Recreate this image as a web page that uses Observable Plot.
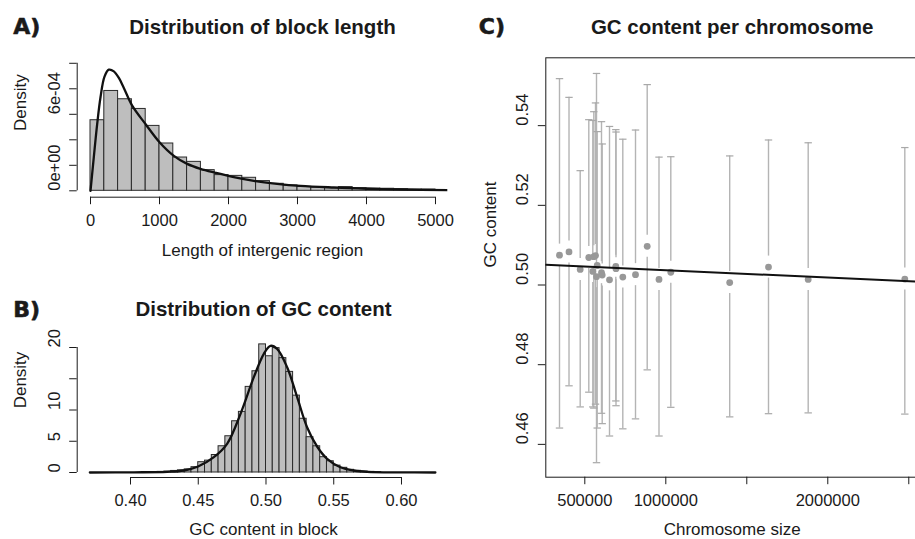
<!DOCTYPE html>
<html><head><meta charset="utf-8">
<script src="https://cdn.jsdelivr.net/npm/d3@7"></script>
<script src="https://cdn.jsdelivr.net/npm/@observablehq/plot@0.6"></script>
<style>
html,body{margin:0;padding:0;background:#fff;overflow:hidden}
#root{position:relative;width:915px;height:539px;overflow:hidden;background:#fff}
#root svg{position:absolute;left:0;top:0}
</style></head><body><div id="root"></div>
<script>
// ---------- Panel A: distribution of block length ----------
const lenBreaks = [0,200,400,600,800,1000,1200,1400,1600,1800,2000,2200,2400,2600,2800,3000,3200,3400,3600,3800,4000,4200,4400,4600,4800,5000];
const lenDensity = [5.535e-4,7.83e-4,7.18e-4,6.42e-4,5.09e-4,3.71e-4,2.61e-4,2.27e-4,1.62e-4,1.23e-4,1.17e-4,1.02e-4,0.76e-4,0.55e-4,0.42e-4,0.31e-4,0.26e-4,0.21e-4,0.29e-4,0.21e-4,0.18e-4,0.16e-4,0.13e-4,0.10e-4,0.10e-4];
const lenCurveX = [0,48,97,145,203,266,338,411,483,604,802,1000,1208,1401,1594,1812,2077,2367,2705,3043,3527,4010,4493,5193];
const lenCurveY = [0,2.64e-4,5.25e-4,7.34e-4,8.96e-4,9.50e-4,9.37e-4,8.85e-4,8.07e-4,6.68e-4,5.20e-4,3.81e-4,2.74e-4,2.11e-4,1.72e-4,1.41e-4,1.07e-4,7.8e-5,5.5e-5,3.9e-5,2.6e-5,1.6e-5,1.0e-5,5e-6];
const lenXTicks = [0,1000,2000,3000,4000,5000];
const lenXLabels = ["0","1000","2000","3000","4000","5000"];
const lenYTicks = [0,0.0002,0.0004,0.0006,0.0008,0.001];
const lenYLabelAt = [0,0.0006];
const lenYLabels = ["0e+00","6e-04"];

// ---------- Panel B: distribution of GC content ----------
const gcBreaks = [0.420,0.425,0.430,0.435,0.440,0.445,0.450,0.455,0.460,0.465,0.470,0.475,0.480,0.485,0.490,0.495,0.500,0.505,0.510,0.515,0.520,0.525,0.530,0.535,0.540,0.545,0.550,0.555,0.560,0.565,0.570,0.575,0.580,0.585];
const gcDensity = [0.1,0.15,0.25,0.35,0.5,0.85,1.65,1.9,2.8,4.2,5.8,8.2,9.7,13.7,16.2,20.5,18.6,19.9,18.3,16.1,12.3,8.6,5.65,4.2,2.45,1.8,1.1,0.75,0.43,0.27,0.16,0.1,0.05];
const gcCurveX = [0.3700,0.4025,0.4271,0.4394,0.4499,0.4615,0.4713,0.4812,0.4910,0.4984,0.5033,0.5082,0.5156,0.5230,0.5303,0.5377,0.5451,0.5549,0.5648,0.5746,0.5992,0.6250];
const gcCurveY = [0,0.03,0.11,0.32,0.96,2.45,4.59,9.39,15.25,18.99,20.27,19.79,16.85,12.05,7.25,4.16,2.19,0.85,0.32,0.11,0.02,0];
const gcXTicks = [0.40,0.45,0.50,0.55,0.60];
const gcXLabels = ["0.40","0.45","0.50","0.55","0.60"];
const gcYTicks = [0,5,10,15,20];
const gcYLabelAt = [0,5,10,20];
const gcYLabels = ["0","5","10","20"];

// ---------- Panel C: GC content per chromosome ----------
const chromSize = [343800,402500,471600,524700,549400,555600,566100,572200,576500,603100,607400,652500,691400,692600,734600,813000,885200,958000,1030900,1394500,1634000,1879000,2475400];
const chromGC   = [0.5075,0.5083,0.5039,0.5069,0.5034,0.5071,0.5074,0.5021,0.5049,0.5031,0.5025,0.5013,0.5047,0.5041,0.5020,0.5026,0.5097,0.5014,0.5032,0.5006,0.5045,0.5014,0.5015];
const chromHi   = [0.5518,0.5471,0.5287,0.5415,0.5413,0.5435,0.5457,0.5531,0.5385,0.5410,0.5354,0.5398,0.5390,0.5384,0.5366,0.5389,0.5503,0.5321,0.5322,0.5324,0.5364,0.5357,0.5345];
const chromLo   = [0.4641,0.4747,0.4694,0.4731,0.4694,0.4691,0.4701,0.4554,0.4641,0.4678,0.4652,0.4621,0.4709,0.4697,0.4639,0.4664,0.4787,0.4621,0.4693,0.4669,0.4677,0.4679,0.4676];
const fitIntercept = 0.50555;
const fitSlope = -1.838e-9;
const sizeTicks = [500000,1000000,1500000,2000000,2500000];
const sizeLabelAt = [500000,1000000,2000000];
const sizeLabels = ["500000","1000000","2000000"];
const gcCTicks = [0.46,0.48,0.50,0.52,0.54];
const gcCLabels = ["0.46","0.48","0.50","0.52","0.54"];

// ---------- styling ----------
const FONT = "'Liberation Sans', Arial, Helvetica, sans-serif";
const INK = "#1a1a1a";
const BAR = "#bebebe";
const EDGE = "#2a2a2a";
const ERR = "#b4b4b4";
const PT = "#989898";
const FS = 16.5, FT = 17, FH = 20.5;
const svgStyle = {background: "transparent", maxWidth: "none", color: INK, fontFamily: FONT, overflow: "visible"};
const root = document.getElementById("root");

function texts(xTitle, yTitle, title, tag, o) {
  return [
    Plot.text([yTitle], {text: d => d, frameAnchor: "left", rotate: -90, lineAnchor: "bottom", dx: o.yTitleDx, fontSize: FT, fill: INK}),
    Plot.text([xTitle], {text: d => d, frameAnchor: "bottom", lineAnchor: "bottom", dy: o.xTitleDy, fontSize: FT, fill: INK}),
    Plot.text([title], {text: d => d, frameAnchor: "top", lineAnchor: "bottom", dy: o.titleDy, fontSize: FH, fontWeight: "bold", fill: INK}),
    Plot.text([tag], {text: d => d, frameAnchor: "top-left", textAnchor: "start", lineAnchor: "bottom", dx: o.tagDx, dy: o.tagDy, fontSize: 22, fontWeight: "bold", fontFamily: "'DejaVu Sans', sans-serif", fill: INK, stroke: INK, strokeWidth: 0.6})
  ];
}

// Panel A
const binsA = lenDensity.map((d, i) => ({x1: lenBreaks[i], x2: lenBreaks[i + 1], y: d}));
const curveA = lenCurveX.map((x, i) => ({x, y: lenCurveY[i]}));
const xDomA = [-192.8, 5178.3], yDomA = [-5.02e-5, 9.882e-4];
root.append(Plot.plot({
  width: 915, height: 539,
  marginLeft: 76.7, marginRight: 915 - 447.3, marginTop: 64.3, marginBottom: 539 - 196.7,
  x: {domain: xDomA}, y: {domain: yDomA},
  style: svgStyle,
  marks: [
    Plot.rect(binsA, {x1: "x1", x2: "x2", y1: 0, y2: "y", fill: BAR, stroke: EDGE, strokeWidth: 1}),
    Plot.line(curveA, {x: "x", y: "y", curve: "catmull-rom", stroke: "#111", strokeWidth: 2.3, clip: true}),
    Plot.ruleY([yDomA[0]], {x1: lenXTicks[0], x2: lenXTicks[lenXTicks.length - 1], stroke: INK}),
    Plot.ruleX([xDomA[0]], {y1: lenYTicks[0], y2: lenYTicks[lenYTicks.length - 1], stroke: INK}),
    Plot.axisX(lenXTicks, {tickSize: 7.5, tickPadding: 9.2, fontSize: FS, label: null, tickFormat: d => lenXLabels[lenXTicks.indexOf(d)]}),
    Plot.axisY(lenYTicks, {tickSize: 7.5, fill: "none", label: null}),
    Plot.text(lenYLabelAt, {y: d => d, text: (d, i) => lenYLabels[i], frameAnchor: "left", rotate: -90, lineAnchor: "bottom", dx: -16.7, fontSize: FS, fill: INK}),
    ...texts("Length of intergenic region", "Density", "Distribution of block length", "A)",
      {yTitleDx: -51.2, xTitleDy: 58.3, titleDy: -31, tagDx: -64, tagDy: -31})
  ]
}));

// Panel B
const binsB = gcDensity.map((d, i) => ({x1: gcBreaks[i], x2: gcBreaks[i + 1], y: d}));
const curveB = gcCurveX.map((x, i) => ({x, y: gcCurveY[i]}));
const xDomB = [0.36066, 0.63565], yDomB = [-0.8, 21.33];
root.append(Plot.plot({
  width: 915, height: 539,
  marginLeft: 76.7, marginRight: 915 - 449.3, marginTop: 338.7, marginBottom: 539 - 477,
  x: {domain: xDomB}, y: {domain: yDomB},
  style: svgStyle,
  marks: [
    Plot.rect(binsB, {x1: "x1", x2: "x2", y1: 0, y2: "y", fill: BAR, stroke: EDGE, strokeWidth: 1}),
    Plot.line(curveB, {x: "x", y: "y", curve: "catmull-rom", stroke: "#111", strokeWidth: 2.3, clip: true}),
    Plot.ruleY([yDomB[0]], {x1: gcXTicks[0], x2: gcXTicks[gcXTicks.length - 1], stroke: INK}),
    Plot.ruleX([xDomB[0]], {y1: gcYTicks[0], y2: gcYTicks[gcYTicks.length - 1], stroke: INK}),
    Plot.axisX(gcXTicks, {tickSize: 7.5, tickPadding: 9.2, fontSize: FS, label: null, tickFormat: d => gcXLabels[gcXTicks.indexOf(d)]}),
    Plot.axisY(gcYTicks, {tickSize: 7.5, fill: "none", label: null}),
    Plot.text(gcYLabelAt, {y: d => d, text: (d, i) => gcYLabels[i], frameAnchor: "left", rotate: -90, lineAnchor: "bottom", dx: -16.7, fontSize: FS, fill: INK}),
    ...texts("GC content in block", "Density", "Distribution of GC content", "B)",
      {yTitleDx: -51.2, xTitleDy: 57.8, titleDy: -23.7, tagDx: -64, tagDy: -22.2})
  ]
}));

// Panel C
const chroms = chromSize.map((s, i) => ({size: s, gc: chromGC[i], hi: chromHi[i], lo: chromLo[i]}));
const xDomC = [259250, 2559930], yDomC = [0.45176, 0.55703];
const fitLine = xDomC.map(x => ({x, y: fitIntercept + fitSlope * x}));
const capSymbol = {draw(ctx, size) { const r = Math.sqrt(size / Math.PI); ctx.moveTo(-r, 0); ctx.lineTo(r, 0); }};
root.append(Plot.plot({
  width: 920, height: 539,
  marginLeft: 545.3, marginRight: 2, marginTop: 57.3, marginBottom: 539 - 476.7,
  x: {domain: xDomC}, y: {domain: yDomC},
  style: svgStyle,
  marks: [
    // upper whisker: from cap down to just above the point (gap around the point)
    Plot.ruleX(chroms, {x: "size", y1: "hi", y2: "gc", insetBottom: 11, stroke: ERR, strokeWidth: 1.4}),
    // lower whisker: from just below the point down to the cap
    Plot.ruleX(chroms, {x: "size", y1: "gc", y2: "lo", insetTop: 11, stroke: ERR, strokeWidth: 1.4}),
    Plot.dot(chroms, {x: "size", y: "hi", symbol: capSymbol, r: 3.7, stroke: "#a8a8a8", fill: "none", strokeWidth: 1.2}),
    Plot.dot(chroms, {x: "size", y: "lo", symbol: capSymbol, r: 3.7, stroke: "#a8a8a8", fill: "none", strokeWidth: 1.2}),
    Plot.dot(chroms, {x: "size", y: "gc", r: 3.4, fill: PT, stroke: "none"}),
    Plot.line(fitLine, {x: "x", y: "y", stroke: "#111", strokeWidth: 2, clip: true}),
    Plot.frame({stroke: INK, strokeWidth: 1}),
    Plot.axisX(sizeTicks, {tickSize: 7.5, tickPadding: 9.2, fontSize: FS, label: null, tickFormat: d => sizeLabelAt.includes(d) ? sizeLabels[sizeLabelAt.indexOf(d)] : ""}),
    Plot.axisY(gcCTicks, {tickSize: 7.5, fill: "none", label: null}),
    Plot.text(gcCTicks, {y: d => d, text: (d, i) => gcCLabels[i], frameAnchor: "left", rotate: -90, lineAnchor: "bottom", dx: -18.3, fontSize: FS, fill: INK}),
    ...texts("Chromosome size", "GC content", "GC content per chromosome", "C)",
      {yTitleDx: -50.3, xTitleDy: 58, titleDy: -24, tagDx: -67, tagDy: -24})
  ]
}));
</script></body></html>
